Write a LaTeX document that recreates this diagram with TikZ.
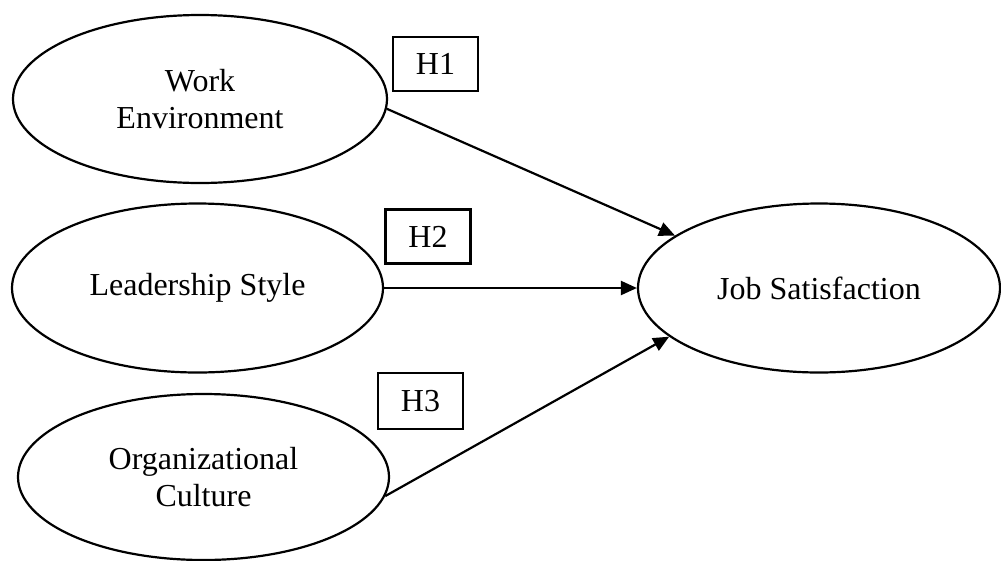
\documentclass[tikz,border=0pt]{standalone}
\usepackage{fontspec}
\setmainfont{Liberation Serif}
\usetikzlibrary{shapes.geometric,arrows.meta}
\begin{document}
\begin{tikzpicture}[x=1pt,y=-1pt,
  construct/.style={draw,ellipse,line width=2.2pt,inner sep=0pt,align=center,
    font=\fontsize{32}{36.5}\selectfont},
  hyp/.style={draw,rectangle,line width=2.2pt,inner sep=0pt,minimum width=85pt,minimum height=54pt,
    font=\fontsize{32}{36.5}\selectfont},
  link/.style={line width=2.2pt,-{Triangle[length=16pt,width=14pt]}}]
\useasboundingbox (0,0) rectangle (1001,560);
\node[construct,minimum width=374pt,minimum height=168pt] (we) at (200,99) {Work\\Environment};
\node[construct,minimum width=371pt,minimum height=169pt] (ls) at (197.5,288) {Leadership Style};
\node[construct,minimum width=371pt,minimum height=166pt] (oc) at (203.5,477) {Organizational\\Culture};
\node[construct,minimum width=362pt,minimum height=169pt] (js) at (819,288) {Job Satisfaction};
\node[hyp] (h1) at (435.5,64) {H1};
\node[hyp] (h2) at (428,236.5) {H2};
\node[hyp,minimum height=56pt] (h3) at (420.5,401) {H3};
\draw[link] (we.-3) -- (js.160);
\draw[link] (ls.east) -- (js.west);
\draw[link] (oc.-6) -- (js.198);
\end{tikzpicture}
\end{document}
